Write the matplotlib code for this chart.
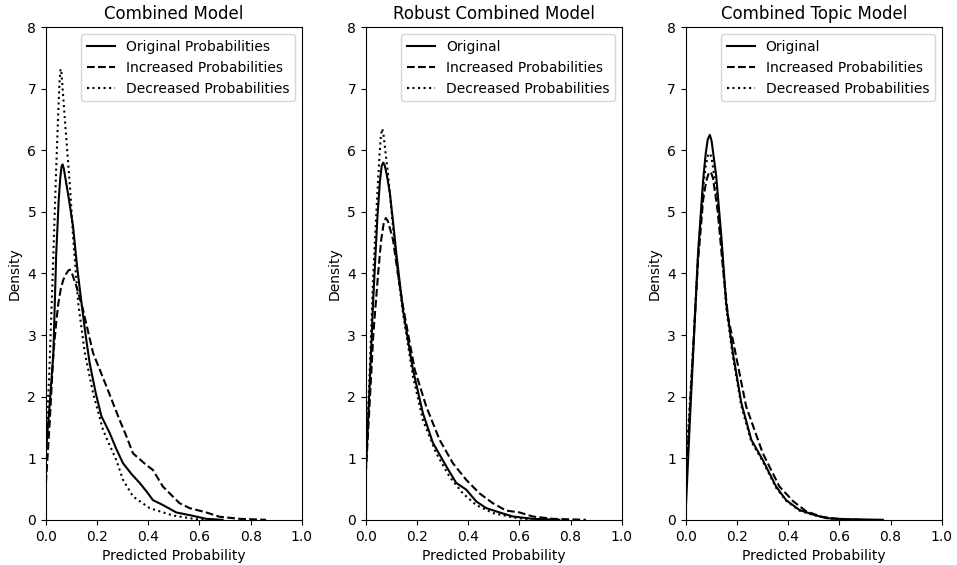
import matplotlib.pyplot as plt

titles = ["Combined Model", "Robust Combined Model", "Combined Topic Model"]
first_labels = ["Original Probabilities", "Original", "Original"]

# panel 1 - combined model
cm_orig_x = [0.0, 0.015, 0.029, 0.040, 0.050, 0.056, 0.061, 0.065, 0.070, 0.078, 0.090, 0.106, 0.122, 0.139, 0.155, 0.171, 0.195, 0.217, 0.249, 0.275, 0.301, 0.335, 0.366, 0.395, 0.418, 0.457, 0.509, 0.574, 0.626, 0.69]
cm_orig_y = [1.1, 1.9, 2.7, 4.3, 5.2, 5.55, 5.74, 5.77, 5.7, 5.5, 5.2, 4.76, 4.1, 3.52, 3.0, 2.54, 2.05, 1.68, 1.41, 1.15, 0.92, 0.74, 0.60, 0.45, 0.32, 0.24, 0.12, 0.065, 0.016, 0.0]
cm_inc_x = [0.0, 0.015, 0.029, 0.040, 0.048, 0.058, 0.068, 0.080, 0.088, 0.094, 0.102, 0.119, 0.145, 0.184, 0.236, 0.288, 0.315, 0.340, 0.392, 0.418, 0.457, 0.522, 0.561, 0.626, 0.678, 0.756, 0.86]
cm_inc_y = [0.6, 1.6, 2.7, 3.2, 3.5, 3.75, 3.9, 4.0, 4.05, 4.06, 4.0, 3.79, 3.41, 2.71, 2.17, 1.62, 1.35, 1.08, 0.89, 0.81, 0.54, 0.27, 0.19, 0.12, 0.05, 0.016, 0.0]
cm_dec_x = [0.0, 0.015, 0.029, 0.040, 0.048, 0.053, 0.057, 0.061, 0.066, 0.074, 0.084, 0.094, 0.106, 0.126, 0.152, 0.184, 0.223, 0.250, 0.275, 0.301, 0.340, 0.405, 0.496, 0.587, 0.65]
cm_dec_y = [1.1, 2.6, 4.3, 5.7, 6.6, 7.1, 7.32, 7.25, 6.95, 6.5, 5.95, 5.41, 4.6, 3.52, 2.71, 2.06, 1.46, 1.2, 0.97, 0.65, 0.38, 0.19, 0.07, 0.01, 0.0]

# panel 2 - robust combined model
rc_orig_x = [0.0, 0.015, 0.029, 0.045, 0.055, 0.062, 0.068, 0.074, 0.082, 0.094, 0.106, 0.119, 0.145, 0.184, 0.223, 0.262, 0.314, 0.353, 0.392, 0.431, 0.470, 0.522, 0.574, 0.652, 0.756]
rc_orig_y = [0.8, 2.2, 3.6, 4.9, 5.5, 5.75, 5.8, 5.75, 5.6, 5.3, 4.85, 4.33, 3.41, 2.44, 1.73, 1.25, 0.87, 0.60, 0.49, 0.30, 0.19, 0.12, 0.054, 0.016, 0.0]
rc_inc_x = [0.0, 0.015, 0.029, 0.048, 0.060, 0.070, 0.078, 0.086, 0.095, 0.106, 0.125, 0.145, 0.191, 0.236, 0.288, 0.340, 0.392, 0.444, 0.496, 0.548, 0.600, 0.652, 0.730, 0.86]
rc_inc_y = [0.76, 1.9, 3.0, 4.0, 4.55, 4.82, 4.9, 4.85, 4.72, 4.55, 4.0, 3.47, 2.44, 1.84, 1.30, 0.92, 0.65, 0.43, 0.27, 0.15, 0.12, 0.054, 0.016, 0.0]
rc_dec_x = [0.0, 0.015, 0.029, 0.045, 0.053, 0.059, 0.064, 0.069, 0.076, 0.087, 0.106, 0.125, 0.145, 0.184, 0.223, 0.275, 0.327, 0.379, 0.431, 0.496, 0.574, 0.65]
rc_dec_y = [0.9, 2.4, 4.0, 5.3, 5.9, 6.25, 6.35, 6.25, 6.0, 5.6, 4.76, 4.0, 3.36, 2.33, 1.62, 1.08, 0.70, 0.43, 0.24, 0.11, 0.04, 0.0]

# panel 3 - combined topic model
ct_orig_x = [0.0, 0.016, 0.029, 0.048, 0.068, 0.078, 0.086, 0.094, 0.101, 0.109, 0.119, 0.139, 0.158, 0.184, 0.217, 0.256, 0.301, 0.353, 0.392, 0.444, 0.496, 0.548, 0.626, 0.77]
ct_orig_y = [0.15, 1.6, 2.7, 4.33, 5.52, 5.95, 6.18, 6.25, 6.15, 5.9, 5.58, 4.6, 3.52, 2.71, 1.90, 1.30, 0.97, 0.54, 0.32, 0.16, 0.087, 0.027, 0.01, 0.0]
ct_inc_x = [0.0, 0.016, 0.029, 0.048, 0.068, 0.080, 0.090, 0.098, 0.106, 0.115, 0.125, 0.145, 0.165, 0.184, 0.236, 0.301, 0.366, 0.420, 0.470, 0.530, 0.600, 0.70]
ct_inc_y = [0.5, 1.8, 2.8, 4.2, 5.2, 5.5, 5.63, 5.65, 5.55, 5.3, 5.0, 4.1, 3.3, 2.92, 1.84, 1.08, 0.54, 0.30, 0.14, 0.05, 0.01, 0.0]
ct_dec_x = [0.0, 0.016, 0.029, 0.048, 0.068, 0.078, 0.087, 0.094, 0.101, 0.109, 0.119, 0.139, 0.158, 0.184, 0.217, 0.256, 0.301, 0.353, 0.392, 0.444, 0.496, 0.560, 0.65]
ct_dec_y = [0.8, 1.9, 2.8, 4.3, 5.4, 5.75, 5.92, 5.95, 5.88, 5.65, 5.4, 4.5, 3.45, 2.65, 1.85, 1.27, 0.95, 0.52, 0.31, 0.15, 0.08, 0.02, 0.0]

panels = [
    [(cm_orig_x, cm_orig_y), (cm_inc_x, cm_inc_y), (cm_dec_x, cm_dec_y)],
    [(rc_orig_x, rc_orig_y), (rc_inc_x, rc_inc_y), (rc_dec_x, rc_dec_y)],
    [(ct_orig_x, ct_orig_y), (ct_inc_x, ct_inc_y), (ct_dec_x, ct_dec_y)],
]
styles = ["-", "--", ":"]

fig, axes = plt.subplots(1, 3, figsize=(9.57, 5.65), dpi=100)
fig.subplots_adjust(left=0.048, right=0.984, bottom=0.08, top=0.952, wspace=0.25)

for ax, title, first, curves in zip(axes, titles, first_labels, panels):
    labels = [first, "Increased Probabilities", "Decreased Probabilities"]
    for (xs, ys), ls, lab in zip(curves, styles, labels):
        ax.plot(xs, ys, color="black", linestyle=ls, linewidth=1.5, label=lab)
    ax.set_xlim(0, 1)
    ax.set_ylim(0, 8)
    ax.set_title(title)
    ax.set_xlabel("Predicted Probability")
    ax.set_ylabel("Density")
    ax.legend(loc="upper right")

plt.savefig("out.png")
